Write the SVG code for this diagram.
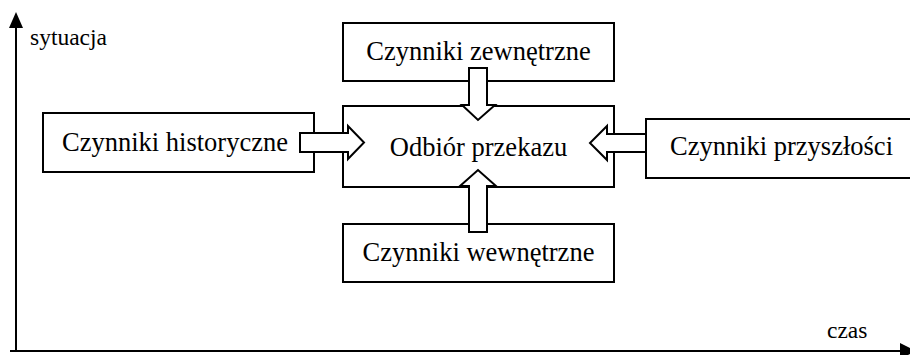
<svg xmlns="http://www.w3.org/2000/svg" width="910" height="355" viewBox="0 0 910 355">
  <style>
    .box { fill: #fff; stroke: #000; stroke-width: 2; }
    .barrow { fill: #fff; stroke: #000; stroke-width: 2; stroke-linejoin: miter; }
    .lbl { font-family: "Liberation Serif", "Times New Roman", serif; font-size: 26.5px; fill: #000; }
    .axl { font-family: "Liberation Serif", "Times New Roman", serif; font-size: 23.5px; fill: #000; }
    .axis { stroke: #000; stroke-width: 2; fill: none; }
  </style>
  <rect width="910" height="355" fill="#fff"/>
  <g id="axes">
    <line class="axis" x1="16" y1="26" x2="16" y2="352"/>
    <polygon points="16,12 9,28 23,28" fill="#000"/>
    <line class="axis" x1="10" y1="351" x2="902" y2="351"/>
    <polygon points="900,343 916,351 900,359" fill="#000"/>
    <text class="axl" x="30" y="45">sytuacja</text>
    <text class="axl" x="827" y="338">czas</text>
  </g>
  <g id="node-zewnetrzne">
    <rect class="box" x="343" y="23" width="271" height="58"/>
    <text class="lbl" x="478.5" y="60" text-anchor="middle">Czynniki zewnętrzne</text>
  </g>
  <g id="node-historyczne">
    <rect class="box" x="43" y="113" width="271" height="59"/>
    <text class="lbl" x="62" y="151">Czynniki historyczne</text>
  </g>
  <g id="node-przyszlosci">
    <rect class="box" x="646" y="119" width="280" height="59"/>
    <text class="lbl" x="670" y="155">Czynniki przyszłości</text>
  </g>
  <g id="node-wewnetrzne">
    <rect class="box" x="343" y="224" width="271" height="58"/>
    <text class="lbl" x="478.5" y="261" text-anchor="middle">Czynniki wewnętrzne</text>
  </g>
  <g id="node-odbior">
    <rect class="box" x="343" y="106" width="271" height="81"/>
    <text class="lbl" x="478.5" y="156" text-anchor="middle">Odbiór przekazu</text>
  </g>
  <g id="connectors">
    <polygon class="barrow" points="300,133 348,133 348,126 364,142.5 348,159 348,152 300,152"/>
    <polygon class="barrow" points="469,68 487,68 487,105 495,105 478,120 462,105 469,105"/>
    <polygon class="barrow" points="646,134 607,134 607,126 590,143 607,160 607,152 646,152"/>
    <polygon class="barrow" points="469,232 487,232 487,186 496,186 478,170 460,186 469,186"/>
  </g>
</svg>
